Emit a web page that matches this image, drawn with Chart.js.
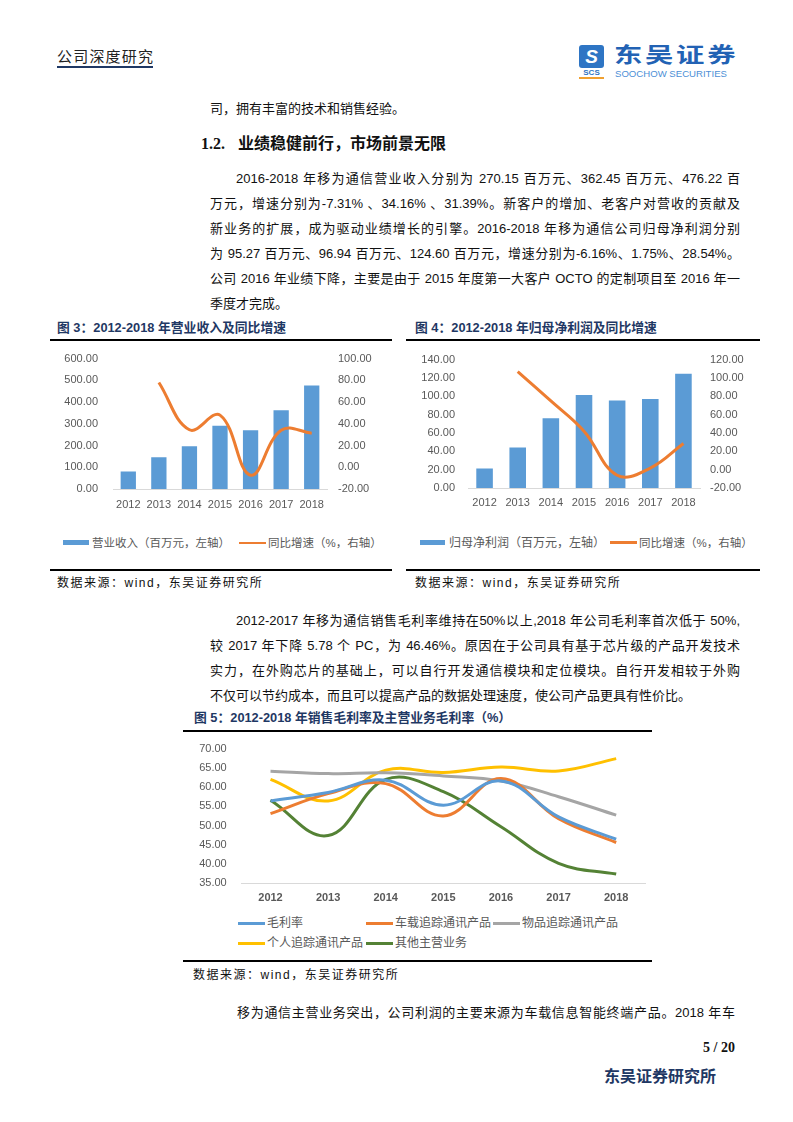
<!DOCTYPE html>
<html lang="zh-CN">
<head>
<meta charset="utf-8">
<title>公司深度研究 - 移为通信</title>
<script src="https://cdn.jsdelivr.net/npm/chart.js@4.4.0/dist/chart.umd.min.js"></script>
<style>
  html, body { margin: 0; padding: 0; background: #fff; }
  body { width: 793px; height: 1122px; position: relative; overflow: hidden;
         font-family: "Liberation Sans", "Noto Sans CJK SC", sans-serif; color: #111; }
  .abs { position: absolute; white-space: nowrap; }
  .txt { position: absolute; left: 210px; width: 530px; font-size: 13px; line-height: 25px; height: 25px;
         white-space: nowrap; text-align: justify; text-align-last: justify; }
  .txt.ind { left: 236px; width: 504px; }
  .txt.end { text-align-last: left; }
  .figtitle { position: absolute; font-size: 12.8px; font-weight: bold; color: #1F3864; line-height: 16px; white-space: nowrap; }
  .rule { position: absolute; height: 2px; background: #000; }
  .src { position: absolute; font-size: 12px; letter-spacing: 1.5px; line-height: 16px; white-space: nowrap; color: #111; }
  .lg { position: absolute; }
  .lgt { position: absolute; font-size: 11.5px; color: #595959; line-height: 16px; white-space: nowrap; }
  canvas { display: block; }
</style>
</head>
<body>

<!-- header -->
<div class="abs" style="left:57px;top:48px;font-size:15px;line-height:18px;letter-spacing:1.2px;color:#222;">公司深度研究</div>
<div class="abs" style="left:57px;top:66px;width:96px;height:1.5px;background:#1F3864;"></div>

<div class="abs" style="left:579px;top:45px;width:25px;height:23px;background:#2E75C4;border-radius:3px;color:#fff;font:bold italic 19px/23px 'Liberation Sans';text-align:center;">S</div>
<div class="abs" style="left:579px;top:68px;width:25px;font:bold 8px/9px 'Liberation Sans';color:#2E75C4;text-align:center;">SCS</div>
<div class="abs" style="left:579px;top:77px;width:25px;height:2px;background:#F0A030;"></div>
<div class="abs" style="left:614px;top:42px;font-size:21px;line-height:26px;font-weight:bold;color:#2262B4;letter-spacing:2px;transform:scaleX(1.35);transform-origin:0 0;">东吴证券</div>
<div class="abs" style="left:615px;top:68px;font-size:9.6px;line-height:11px;color:#4D8FD6;">SOOCHOW SECURITIES</div>

<!-- paragraph 1 -->
<div class="txt end" style="top:95.5px;">司，拥有丰富的技术和销售经验。</div>
<div class="abs" style="left:201px;top:134px;font:bold 16px/20px 'Liberation Serif';color:#111;">1.2.</div>
<div class="abs" style="left:238px;top:134px;font-size:16px;line-height:20px;font-weight:bold;color:#111;">业绩稳健前行，市场前景无限</div>

<div class="txt ind" style="top:165.8px;">2016-2018 年移为通信营业收入分别为 270.15 百万元、362.45 百万元、476.22 百</div>
<div class="txt" style="top:190.8px;">万元，增速分别为-7.31% 、34.16% 、31.39%。新客户的增加、老客户对营收的贡献及</div>
<div class="txt" style="top:215.8px;">新业务的扩展，成为驱动业绩增长的引擎。2016-2018 年移为通信公司归母净利润分别</div>
<div class="txt" style="top:240.8px;">为 95.27 百万元、96.94 百万元、124.60 百万元，增速分别为-6.16%、1.75%、28.54%。</div>
<div class="txt" style="top:265.8px;">公司 2016 年业绩下降，主要是由于 2015 年度第一大客户 OCTO 的定制项目至 2016 年一</div>
<div class="txt end" style="top:290.8px;">季度才完成。</div>

<!-- figure 3 -->
<div class="figtitle" style="left:57px;top:320px;">图 3：2012-2018 年营业收入及同比增速</div>
<div class="rule" style="left:50px;top:338.5px;width:342px;"></div>
<div class="abs" style="left:50px;top:337px;"><canvas id="c3" width="342" height="180"></canvas></div>
<div class="lg" style="left:63px;top:540px;width:26px;height:5px;background:#5B9BD5;"></div>
<div class="lgt" style="left:92px;top:534.5px;">营业收入（百万元，左轴）</div>
<div class="lg" style="left:239px;top:541.5px;width:27px;height:2.5px;background:#ED7D31;"></div>
<div class="lgt" style="left:268px;top:534.5px;">同比增速（%，右轴）</div>
<div class="rule" style="left:50px;top:569px;width:342px;"></div>
<div class="src" style="left:57px;top:574.5px;">数据来源：wind，东吴证券研究所</div>

<!-- figure 4 -->
<div class="figtitle" style="left:415px;top:320px;">图 4：2012-2018 年归母净利润及同比增速</div>
<div class="rule" style="left:406px;top:339px;width:354px;"></div>
<div class="abs" style="left:406px;top:340px;"><canvas id="c4" width="354" height="178"></canvas></div>
<div class="lg" style="left:420px;top:540px;width:25px;height:5px;background:#5B9BD5;"></div>
<div class="lgt" style="left:449px;top:534.5px;font-size:12px;">归母净利润（百万元，左轴）</div>
<div class="lg" style="left:610px;top:541px;width:27px;height:2.5px;background:#ED7D31;"></div>
<div class="lgt" style="left:639px;top:534.5px;">同比增速（%，右轴）</div>
<div class="rule" style="left:406px;top:569px;width:354px;"></div>
<div class="src" style="left:415px;top:574.5px;">数据来源：wind，东吴证券研究所</div>

<!-- paragraph 2 -->
<div class="txt ind" style="top:607.5px;">2012-2017 年移为通信销售毛利率维持在50%以上,2018 年公司毛利率首次低于 50%,</div>
<div class="txt" style="top:632.5px;">较 2017 年下降 5.78 个 PC，为 46.46%。原因在于公司具有基于芯片级的产品开发技术</div>
<div class="txt" style="top:657.5px;">实力，在外购芯片的基础上，可以自行开发通信模块和定位模块。自行开发相较于外购</div>
<div class="txt end" style="top:682.5px;">不仅可以节约成本，而且可以提高产品的数据处理速度，使公司产品更具有性价比。</div>

<!-- figure 5 -->
<div class="figtitle" style="left:194px;top:710px;">图 5：2012-2018 年销售毛利率及主营业务毛利率（%）</div>
<div class="rule" style="left:183px;top:730px;width:469px;"></div>
<div class="abs" style="left:184px;top:727px;"><canvas id="c5" width="468" height="183"></canvas></div>
<div id="lg5"></div>
<div class="rule" style="left:183px;top:960px;width:469px;"></div>
<div class="src" style="left:193px;top:967px;">数据来源：wind，东吴证券研究所</div>

<!-- paragraph 3 -->
<div class="txt ind" style="top:999.5px;left:237px;width:498px;">移为通信主营业务突出，公司利润的主要来源为车载信息智能终端产品。2018 年车</div>

<!-- footer -->
<div class="abs" style="left:690px;top:1039px;width:45px;text-align:right;font:bold 14px/18px 'Liberation Serif';color:#111;">5 / 20</div>
<div class="abs" style="left:604px;top:1068px;font-size:16px;line-height:18px;font-weight:bold;color:#1F3864;">东吴证券研究所</div>

<script>
// data
const years = ['2012', '2013', '2014', '2015', '2016', '2017', '2018'];

// fig 3: operating revenue (mn yuan) and yoy growth (%)
const revenue = [81, 146, 197, 291.46, 270.15, 362.45, 476.22];
const revenueGrowth = [null, 78, 34.5, 48, -7.31, 34.16, 31.39];

// fig 4: net profit attributable to parent (mn yuan) and yoy growth (%)
const netProfit = [21.2, 44.2, 76, 101.5, 95.27, 96.94, 124.6];
const netProfitGrowth = [null, 107, 75, 42, -6.16, 1.75, 28.54];

// fig 5: gross margins (%)
const grossMargin    = [56.4, 58.6, 61.8, 55.3, 61.6, 52.24, 46.46];
const vehicleMargin  = [53.1, 58.3, 60.9, 52.5, 62.2, 51.8, 45.6];
const assetMargin    = [64.1, 63.5, 63.7, 62.9, 61.6, 57.5, 52.7];
const personalMargin = [62.0, 56.4, 64.4, 63.8, 65.2, 64.2, 67.4];
const otherMargin    = [56.6, 47.4, 62.0, 58.8, 49.7, 40.2, 37.4];

const BLUE = '#5B9BD5', ORANGE = '#ED7D31', GRAY = '#A5A5A5', YELLOW = '#FFC000', GREEN = '#548235';
const tickFont = { family: 'Liberation Sans', size: 11 };
const tickColor = '#595959';
const fmt2 = v => Number(v).toFixed(2);

function comboChart(id, barLabel, bars, lineLabel, line, o) {
  return new Chart(document.getElementById(id), {
    type: 'bar',
    data: {
      labels: years,
      datasets: [
        { type: 'line', label: lineLabel, data: line, yAxisID: 'y1', borderColor: ORANGE,
          borderWidth: 3, pointRadius: 0, tension: 0.4, order: 0 },
        { type: 'bar', label: barLabel, data: bars, yAxisID: 'y', backgroundColor: BLUE,
          barPercentage: o.barPct, categoryPercentage: 1, order: 1 }
      ]
    },
    options: {
      responsive: false,
      animation: false,
      layout: { padding: 0 },
      plugins: { legend: { display: false }, tooltip: { enabled: false } },
      scales: {
        x: {
          grid: { display: false, drawTicks: false },
          border: { color: '#D9D9D9', width: 1 },
          ticks: { font: tickFont, color: tickColor, padding: o.xPad, maxRotation: 0 },
          afterFit: s => { s.height = o.xHeight; }
        },
        y: {
          position: 'left', min: o.yMin, max: o.yMax,
          grid: { display: false, drawTicks: false },
          border: { display: false },
          ticks: { stepSize: o.yStep, padding: o.yPad, font: tickFont, color: tickColor, callback: fmt2 },
          afterFit: s => { s.width = o.yWidth; }
        },
        y1: {
          position: 'right', min: o.y1Min, max: o.y1Max,
          grid: { display: false, drawTicks: false },
          border: { display: false },
          ticks: { stepSize: o.y1Step, padding: o.y1Pad, font: tickFont, color: tickColor, callback: fmt2 },
          afterFit: s => { s.width = o.y1Width; }
        }
      }
    }
  });
}

comboChart('c3', '营业收入（百万元，左轴）', revenue, '同比增速（%，右轴）', revenueGrowth, {
  barPct: 0.5, xPad: 9, xHeight: 28,
  yMin: 0, yMax: 600, yStep: 100, yPad: 15, yWidth: 63,
  y1Min: -20, y1Max: 100, y1Step: 20, y1Pad: 11, y1Width: 65
});

comboChart('c4', '归母净利润（百万元，左轴）', netProfit, '同比增速（%，右轴）', netProfitGrowth, {
  barPct: 0.5, xPad: 8, xHeight: 30,
  yMin: 0, yMax: 140, yStep: 20, yPad: 13, yWidth: 62,
  y1Min: -20, y1Max: 120, y1Step: 20, y1Pad: 10, y1Width: 60
});

const marginSeries = [
  { label: '毛利率', data: grossMargin, color: BLUE },
  { label: '车载追踪通讯产品', data: vehicleMargin, color: ORANGE },
  { label: '物品追踪通讯产品', data: assetMargin, color: GRAY },
  { label: '个人追踪通讯产品', data: personalMargin, color: YELLOW },
  { label: '其他主营业务', data: otherMargin, color: GREEN }
];

const c5 = new Chart(document.getElementById('c5'), {
  type: 'line',
  data: {
    labels: years,
    datasets: marginSeries.map((s, i) => ({
      label: s.label, data: s.data, borderColor: s.color, backgroundColor: s.color,
      borderWidth: 3, pointRadius: 0, tension: 0.4, order: i
    })).reverse()
  },
  options: {
    responsive: false,
    animation: false,
    layout: { padding: { top: 0, left: 0, right: 7, bottom: 0 } },
    plugins: { legend: { display: false }, tooltip: { enabled: false } },
    scales: {
      x: {
        offset: true,
        grid: { display: false, drawTicks: false },
        border: { color: '#D9D9D9', width: 1 },
        ticks: { font: { family: 'Liberation Sans', size: 11, weight: 'bold' }, color: tickColor, padding: 8, maxRotation: 0 },
        afterFit: s => { s.height = 26.7; }
      },
      y: {
        min: 35, max: 70,
        grid: { display: false, drawTicks: false },
        border: { display: false },
        ticks: { stepSize: 5, padding: 15, font: tickFont, color: tickColor, callback: fmt2 },
        afterFit: s => { s.width = 57.7; }
      }
    }
  }
});

// html legend for fig 5, two rows like the original
const lgPos = [[238, 923], [366, 923], [493, 923], [238, 943], [366, 943]];
const lg5 = document.getElementById('lg5');
marginSeries.forEach((s, i) => {
  const [x, y] = lgPos[i];
  const sw = document.createElement('div');
  sw.className = 'lg';
  sw.style.cssText = `left:${x}px;top:${y - 1.5}px;width:27px;height:3px;background:${s.color};`;
  const t = document.createElement('div');
  t.className = 'lgt';
  t.style.cssText = `left:${x + 29}px;top:${y - 8}px;font-size:12px;`;
  t.textContent = s.label;
  lg5.appendChild(sw);
  lg5.appendChild(t);
});
</script>
</body>
</html>
